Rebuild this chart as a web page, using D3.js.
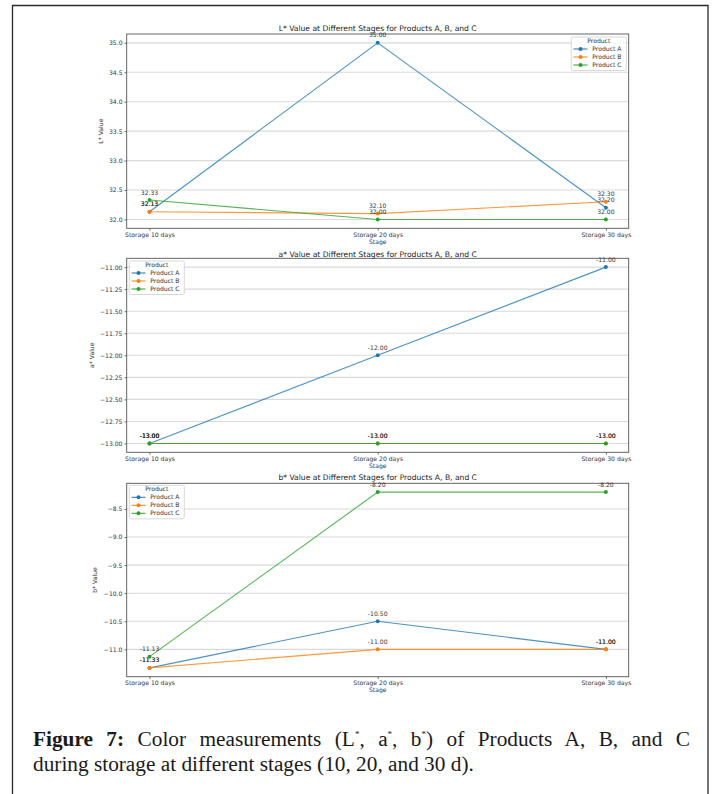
<!DOCTYPE html>
<html>
<head>
<meta charset="utf-8">
<script src="https://cdn.jsdelivr.net/npm/d3@7"></script>
<style>
  html, body { margin: 0; padding: 0; background: #fff; }
  #wrap { position: relative; width: 716px; height: 794px; overflow: hidden; }
  svg { position: absolute; left: 0; top: 0; }
  .caption { position: absolute; left: 33px; width: 657px; font-family: "Liberation Serif", "DejaVu Serif", serif; font-size: 21.3px; color: #1a1a1a; line-height: 25px; }
  .caption .j { text-align: justify; text-align-last: justify; white-space: nowrap; }
  .caption b { font-weight: bold; }
  .caption sup { font-size: 9px; vertical-align: 9px; line-height: 0; }
</style>
</head>
<body>
<div id="wrap">
  <svg id="chart" width="716" height="794"></svg>
  <div class="caption" style="top:727px;">
    <div class="j"><b>Figure 7:</b> Color measurements (L<sup>*</sup>, a<sup>*</sup>, b<sup>*</sup>) of Products A, B, and C</div>
    <div>during storage at different stages (10, 20, and 30 d).</div>
  </div>
</div>
<script>
// Storage stages and products
const stages = ["Storage 10 days", "Storage 20 days", "Storage 30 days"];
const products = ["Product A", "Product B", "Product C"];
const productColors = ["#1f77b4", "#ff7f0e", "#2ca02c"];

// L* values per product
const lA = [32.13, 35.00, 32.20];
const lB = [32.13, 32.10, 32.30];
const lC = [32.33, 32.00, 32.00];
const lTicks = [32.0, 32.5, 33.0, 33.5, 34.0, 34.5, 35.0];

// a* values per product
const aA = [-13.00, -12.00, -11.00];
const aB = [-13.00, -13.00, -13.00];
const aC = [-13.00, -13.00, -13.00];
const aTicks = [-13.00, -12.75, -12.50, -12.25, -12.00, -11.75, -11.50, -11.25, -11.00];

// b* values per product
const bA = [-11.33, -10.50, -11.00];
const bB = [-11.33, -11.00, -11.00];
const bC = [-11.13, -8.20, -8.20];
const bTicks = [-11.0, -10.5, -10.0, -9.5, -9.0, -8.5];

const svg = d3.select("#chart");
const FONT = "DejaVu Sans, sans-serif";
const FS = 6.1;

// outer frame
svg.append("path")
  .attr("d", "M12.5,794V5.5H708V794")
  .attr("fill", "none").attr("stroke", "#2a2a2a").attr("stroke-width", 1.3);

function panel(opt) {
  const { top, bottom, left, right, title, titleY, yLabel, yLabelX, series, ticks, tickFmt, legendPos } = opt;
  const g = svg.append("g");

  const all = series.flat();
  const [mn, mx] = d3.extent(all);
  const pad = (mx - mn) * 0.05;

  const x = d3.scalePoint().domain(stages).range([left, right]).padding(0.1);
  const y = d3.scaleLinear().domain([mn - pad, mx + pad]).range([bottom, top]);

  // horizontal grid
  g.append("g").selectAll("line").data(ticks).join("line")
    .attr("x1", left).attr("x2", right)
    .attr("y1", d => y(d)).attr("y2", d => y(d))
    .attr("stroke", "#dadada").attr("stroke-width", 1.1);

  // axes
  const yAxis = g.append("g").attr("transform", `translate(${left},0)`)
    .call(d3.axisLeft(y).tickValues(ticks).tickFormat(tickFmt).tickSize(2.2).tickPadding(2));
  const xAxis = g.append("g").attr("transform", `translate(0,${bottom})`)
    .call(d3.axisBottom(x).tickSize(2.2).tickPadding(2));
  [yAxis, xAxis].forEach(a => {
    a.select(".domain").remove();
    a.selectAll("line").attr("stroke", "#444").attr("stroke-width", 0.8);
    a.selectAll("text").attr("font-family", FONT).attr("font-size", FS).attr("fill", "#333");
  });

  // spines
  g.append("rect").attr("x", left).attr("y", top)
    .attr("width", right - left).attr("height", bottom - top)
    .attr("fill", "none").attr("stroke", "#555").attr("stroke-width", 0.9);

  // title and axis labels
  g.append("text").attr("x", (left + right) / 2).attr("y", titleY)
    .attr("text-anchor", "middle").attr("font-family", FONT).attr("font-size", 7.6)
    .attr("fill", "#222").text(title);
  g.append("text").attr("x", x(stages[1])).attr("y", bottom + 15.5)
    .attr("text-anchor", "middle").attr("font-family", FONT).attr("font-size", FS)
    .attr("fill", "#333").text("Stage");
  g.append("text").attr("transform", `translate(${yLabelX},${(top + bottom) / 2}) rotate(-90)`)
    .attr("text-anchor", "middle").attr("font-family", FONT).attr("font-size", FS)
    .attr("fill", "#333").text(yLabel);

  const line = d3.line().x((d, i) => x(stages[i])).y(d => y(d));

  series.forEach((vals, k) => {
    const c = productColors[k];
    g.append("path").datum(vals).attr("d", line)
      .attr("fill", "none").attr("stroke", c).attr("stroke-width", 1.1).attr("opacity", 0.8);
    g.append("g").selectAll("circle").data(vals).join("circle")
      .attr("cx", (d, i) => x(stages[i])).attr("cy", d => y(d)).attr("r", 2)
      .attr("fill", c);
    g.append("g").selectAll("text").data(vals).join("text")
      .attr("x", (d, i) => x(stages[i])).attr("y", d => y(d) - 5.5)
      .attr("text-anchor", "middle").attr("font-family", FONT).attr("font-size", FS)
      .attr("fill", "#333").text(d => d.toFixed(2));
  });

  // legend
  const lg = g.append("g").attr("transform", `translate(${legendPos[0]},${legendPos[1]})`);
  lg.append("rect").attr("width", 55).attr("height", 33.5).attr("rx", 1.5)
    .attr("fill", "#fff").attr("fill-opacity", 0.85).attr("stroke", "#cfcfcf").attr("stroke-width", 0.8);
  lg.append("text").attr("x", 27.5).attr("y", 6.2).attr("text-anchor", "middle")
    .attr("font-family", FONT).attr("font-size", FS).attr("fill", "#333").text("Product");
  products.forEach((p, k) => {
    const yy = 12 + k * 8;
    lg.append("line").attr("x1", 2.2).attr("x2", 16.2).attr("y1", yy).attr("y2", yy)
      .attr("stroke", productColors[k]).attr("stroke-width", 1);
    lg.append("circle").attr("cx", 9.2).attr("cy", yy).attr("r", 2).attr("fill", productColors[k]);
    lg.append("text").attr("x", 21).attr("y", yy + 2.2)
      .attr("font-family", FONT).attr("font-size", FS).attr("fill", "#333").text(p);
  });
}

const L = 126.7, R = 628.7;

panel({
  top: 34, bottom: 228.3, left: L, right: R, titleY: 31.3,
  title: "L* Value at Different Stages for Products A, B, and C",
  yLabel: "L* Value", yLabelX: 103,
  series: [lA, lB, lC], ticks: lTicks, tickFmt: d3.format(".1f"),
  legendPos: [571.3, 37]
});

panel({
  top: 258.3, bottom: 452.3, left: L, right: R, titleY: 256.5,
  title: "a* Value at Different Stages for Products A, B, and C",
  yLabel: "a* Value", yLabelX: 93.5,
  series: [aA, aB, aC], ticks: aTicks, tickFmt: d3.format(".2f"),
  legendPos: [129.3, 261]
});

panel({
  top: 483.3, bottom: 676.7, left: L, right: R, titleY: 479.5,
  title: "b* Value at Different Stages for Products A, B, and C",
  yLabel: "b* Value", yLabelX: 97,
  series: [bA, bB, bC], ticks: bTicks, tickFmt: d3.format(".1f"),
  legendPos: [129.3, 485.3]
});
</script>
</body>
</html>
